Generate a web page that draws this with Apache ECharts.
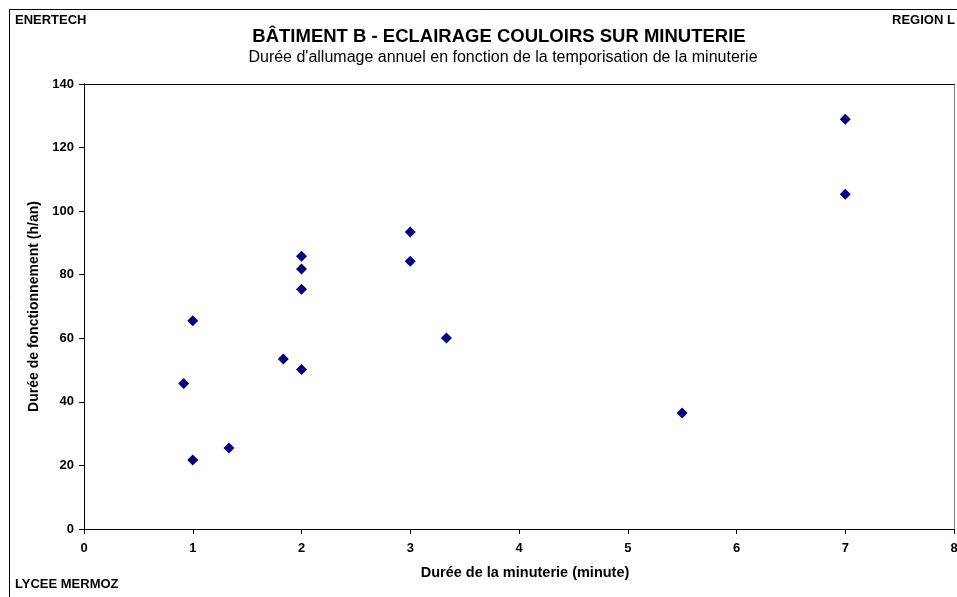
<!DOCTYPE html>
<html><head><meta charset="utf-8">
<script src="https://cdn.jsdelivr.net/npm/echarts@6/dist/echarts.min.js"></script>
<style>html,body{margin:0;padding:0;background:#fff}#c{width:957px;height:597px}</style>
</head><body><div id="c"></div>
<script>
const tempo = [0.917, 1, 1, 1.333, 1.833, 2, 2, 2, 2, 3, 3, 3.333, 5.5, 7, 7];
const duree = [45.8, 65.5, 21.7, 25.5, 53.5, 85.8, 81.8, 75.4, 50.2, 93.4, 84.2, 60.1, 36.5, 128.9, 105.3];
const xTicks = [0, 1, 2, 3, 4, 5, 6, 7, 8];
const yTicks = [0, 20, 40, 60, 80, 100, 120, 140];

const F = 'Liberation Sans, Arial, sans-serif';
const chart = echarts.init(document.getElementById('c'));
chart.setOption({
  animation: false,
  title: [
    {text: 'BÂTIMENT B - ECLAIRAGE COULOIRS SUR MINUTERIE', left: 494, top: 22, textAlign: 'center',
     textStyle: {fontFamily: F, fontSize: 18.5, fontWeight: 'bold', color: '#000'}},
    {text: "Durée d'allumage annuel en fonction de la temporisation de la minuterie", left: 498, top: 45, textAlign: 'center',
     textStyle: {fontFamily: F, fontSize: 16, fontWeight: 'normal', color: '#000'}},
    {text: 'ENERTECH', left: 10, top: 9, textStyle: {fontFamily: F, fontSize: 13, fontWeight: 'bold', color: '#000'}},
    {text: 'REGION L', left: 887, top: 9, textStyle: {fontFamily: F, fontSize: 13, fontWeight: 'bold', color: '#000'}},
    {text: 'LYCEE MERMOZ', left: 10, top: 573, textStyle: {fontFamily: F, fontSize: 13, fontWeight: 'bold', color: '#000'}}
  ],
  graphic: [
    {type: 'line', shape: {x1: 9.5, y1: 9.5, x2: 957, y2: 9.5}, style: {stroke: '#000', lineWidth: 1}},
    {type: 'line', shape: {x1: 9.5, y1: 9.5, x2: 9.5, y2: 597}, style: {stroke: '#000', lineWidth: 1}}
  ],
  grid: {left: 84, top: 84, width: 870, height: 445, show: false, outerBoundsMode: 'none', containLabel: false},
  xAxis: [{
    type: 'value', min: xTicks[0], max: xTicks[xTicks.length - 1], interval: 1,
    name: 'Durée de la minuterie (minute)', nameLocation: 'middle', nameGap: 36,
    nameTextStyle: {fontFamily: F, fontSize: 14.5, fontWeight: 'bold', color: '#000', padding: [0, 0, 0, 12]},
    axisLine: {show: true, onZero: false, lineStyle: {color: '#000', width: 1}},
    axisTick: {show: true, length: 5, lineStyle: {color: '#000'}},
    axisLabel: {fontFamily: F, fontSize: 13, fontWeight: 'bold', color: '#000', margin: 13},
    splitLine: {show: false}
  }, {
    type: 'value', position: 'top', min: 0, max: 8,
    axisLine: {show: true, onZero: false, lineStyle: {color: '#000', width: 1}},
    axisTick: {show: false}, axisLabel: {show: false}, splitLine: {show: false}
  }],
  yAxis: [{
    type: 'value', min: yTicks[0], max: yTicks[yTicks.length - 1], interval: 20,
    name: 'Durée de fonctionnement (h/an)', nameLocation: 'middle', nameGap: 38,
    nameTextStyle: {fontFamily: F, fontSize: 14, fontWeight: 'bold', color: '#000'},
    axisLine: {show: true, onZero: false, lineStyle: {color: '#000', width: 1}},
    axisTick: {show: true, length: 5, lineStyle: {color: '#000'}},
    axisLabel: {fontFamily: F, fontSize: 13, fontWeight: 'bold', color: '#000', margin: 10},
    splitLine: {show: false}
  }, {
    type: 'value', position: 'right', min: 0, max: 140,
    axisLine: {show: true, onZero: false, lineStyle: {color: '#808080', width: 1}},
    axisTick: {show: false}, axisLabel: {show: false}, splitLine: {show: false}
  }],
  series: [{
    type: 'scatter', symbol: 'diamond', symbolSize: 11,
    itemStyle: {color: '#000080', opacity: 1},
    data: tempo.map((t, i) => [t, duree[i]])
  }]
});
</script></body></html>
